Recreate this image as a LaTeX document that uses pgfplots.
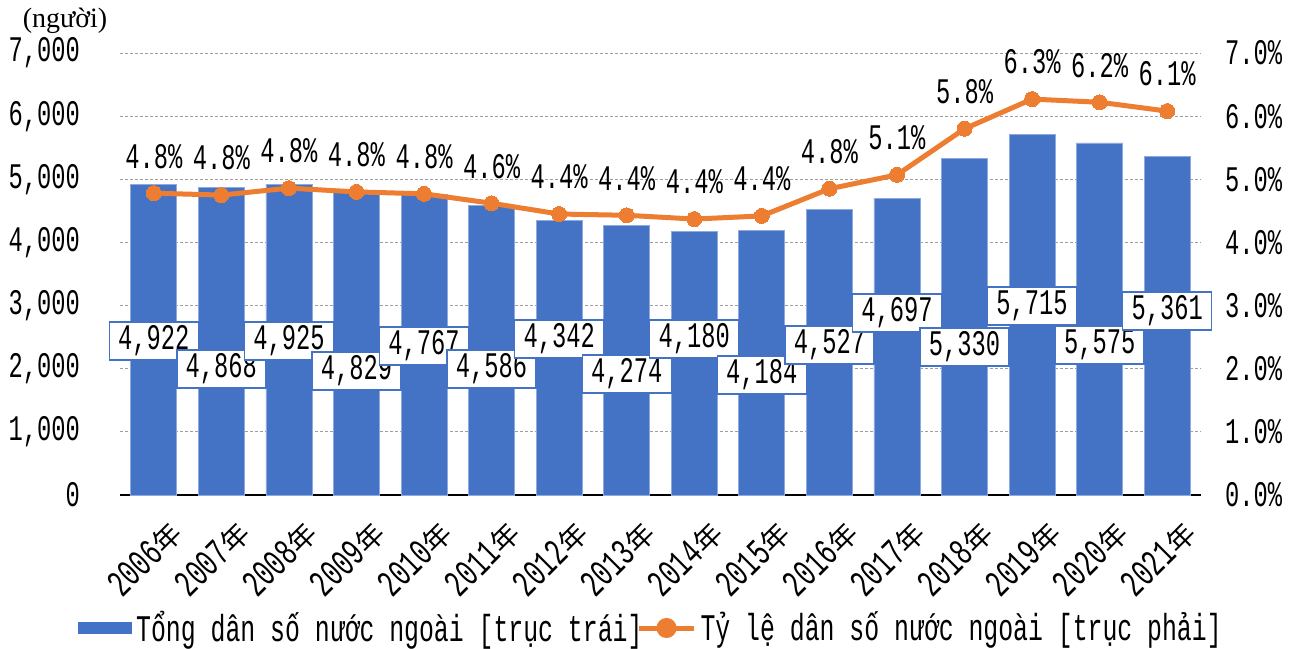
\documentclass[border=0pt]{standalone}
\usepackage{pgfplots}
\pgfplotsset{compat=1.18}
\usepackage{fontspec}
\newfontfamily\gfont[FakeStretch=0.66]{Liberation Mono}
\newfontfamily\cjk{Noto Sans CJK JP}
\newfontfamily\sfont{Liberation Serif}
\definecolor{barblue}{HTML}{4472C4}
\definecolor{baredge}{HTML}{8FAADC}
\definecolor{lineor}{HTML}{ED7D31}
\newcommand{\yr}[1]{{\fontsize{19}{19}\gfont #1}{\fontsize{14}{14}\cjk 年}}
\newcommand{\lf}{\fontsize{18}{18}\gfont}
\newcommand{\legf}{\fontsize{18.8}{18.8}\gfont}
\begin{document}
\begin{tikzpicture}
\path[use as bounding box] (-60pt,-76.5pt) rectangle (587.5pt,247.5pt);
\begin{axis}[
  scale only axis, width=540.5pt, height=221pt,
  xmin=-0.5, xmax=15.5, ymin=0, ymax=7000,
  axis x line*=bottom, axis y line*=left,
  x axis line style={-, draw=black, line width=0.8pt},
  y axis line style={draw=none},
  major tick length=0pt,
  ytick={0,1000,...,7000},
  xtick={0,...,15},
  xticklabels={\yr{2006},\yr{2007},\yr{2008},\yr{2009},\yr{2010},\yr{2011},\yr{2012},\yr{2013},\yr{2014},\yr{2015},\yr{2016},\yr{2017},\yr{2018},\yr{2019},\yr{2020},\yr{2021}},
  xticklabel style={rotate=45, anchor=north east, inner sep=0.5pt, yshift=-12pt, xshift=-3pt},
  ymajorgrids, major grid style={gray!75, dash pattern=on 1.5pt off 1pt, line width=0.5pt},
  /pgf/number format/.cd, 1000 sep={,}, assume math mode=true,
  /pgfplots/.cd,
  yticklabel style={font=\lf, anchor=east, xshift=-16.5pt},
  clip=false,
]
\addplot[ybar, bar width=23pt, fill=barblue, draw=baredge, line width=0.4pt, bar shift=0pt]
  coordinates {(0,4922) (1,4868) (2,4925) (3,4829) (4,4767) (5,4586) (6,4342) (7,4274)
               (8,4180) (9,4184) (10,4527) (11,4697) (12,5330) (13,5715) (14,5575) (15,5361)};
\addplot[draw=none, mark=none, nodes near coords, point meta=explicit symbolic,
  every node near coord/.append style={anchor=center, font=\lf, fill=white, draw=barblue,
    line width=0.7pt, minimum width=44.5pt, minimum height=19pt, inner sep=0pt}]
  coordinates {(0,2440) [4,922] (1,1996) [4,868] (2,2440) [4,925] (3,1964) [4,829]
               (4,2360) [4,767] (5,1996) [4,586] (6,2471) [4,342] (7,1916) [4,274]
               (8,2471) [4,180] (9,1900) [4,184] (10,2376) [4,527] (11,2882) [4,697]
               (12,2344) [5,330] (13,2993) [5,715] (14,2376) [5,575] (15,2914) [5,361]};
\node[font=\fontsize{14}{14}\sfont] at (rel axis cs:0,1) [xshift=-27.5pt, yshift=16pt] {(người)};
\end{axis}
\begin{axis}[
  scale only axis, width=540.5pt, height=221pt,
  xmin=-0.5, xmax=15.5, ymin=0, ymax=7,
  axis x line=none, axis y line*=right,
  y axis line style={draw=none},
  major tick length=0pt,
  ytick={0,...,7},
  yticklabel={\pgfmathprintnumber[fixed,fixed zerofill,precision=1,assume math mode=true]{\tick}\%},
  yticklabel style={font=\lf, anchor=west, xshift=8.5pt},
  clip=false,
  legend style={at={(rel axis cs:0,0)}, anchor=west, xshift=-21pt, yshift=-66.5pt,
    draw=none, fill=none, font=\legf, inner sep=0pt,
    /tikz/every even column/.append style={column sep=-5pt}},
  legend columns=2, legend cell align=left,
]
\addlegendimage{legend image code/.code={\fill[barblue] (0pt,-2.7pt) rectangle (26.5pt,2.7pt);}}
\addlegendentry{Tổng dân số nước ngoài [trục trái]}
\addplot[lineor, line width=2.5pt, mark=*, mark size=3.75pt, mark options={fill=lineor, draw=lineor, line width=0pt},
  nodes near coords, point meta=explicit symbolic,
  every node near coord/.append style={anchor=center, yshift=18.5pt, font=\lf, text=black},
  legend image code/.code={\draw[lineor, line width=2.5pt] (0pt,0pt) -- (27.5pt,0pt); \fill[lineor] (13.75pt,0pt) circle (3.75pt);}]
  coordinates {(0,4.78) [4.8\%] (1,4.75) [4.8\%] (2,4.86) [4.8\%] (3,4.80) [4.8\%]
               (4,4.77) [4.8\%] (5,4.62) [4.6\%] (6,4.45) [4.4\%] (7,4.43) [4.4\%]
               (8,4.37) [4.4\%] (9,4.42) [4.4\%] (10,4.85) [4.8\%] (11,5.07) [5.1\%]
               (12,5.80) [5.8\%] (13,6.27) [6.3\%] (14,6.22) [6.2\%] (15,6.08) [6.1\%]};
\addlegendentry{Tỷ lệ dân số nước ngoài [trục phải]}
\end{axis}
\end{tikzpicture}
\end{document}
